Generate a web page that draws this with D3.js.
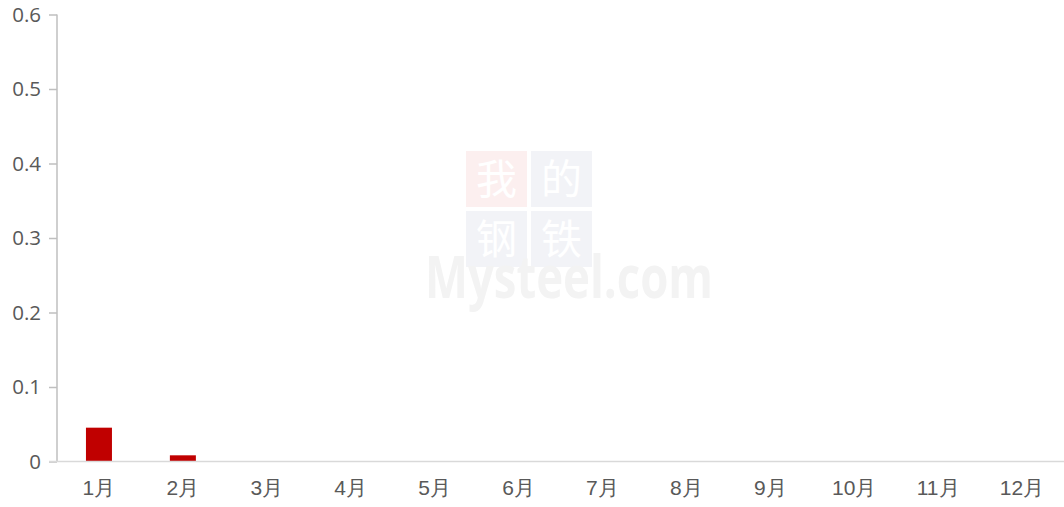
<!DOCTYPE html>
<html>
<head>
<meta charset="utf-8">
<script src="https://cdn.jsdelivr.net/npm/d3@7"></script>
<style>
  body { margin: 0; background: #fff; }
  svg { display: block; font-family: "Noto Sans CJK SC", "Noto Sans", sans-serif; }
</style>
</head>
<body>
<svg id="chart" width="1064" height="507"></svg>
<script>
var months = ['1月', '2月', '3月', '4月', '5月', '6月', '7月', '8月', '9月', '10月', '11月', '12月'];
var values = [0.0454, 0.0083, 0, 0, 0, 0, 0, 0, 0, 0, 0, 0];
var yTicks = [0, 0.1, 0.2, 0.3, 0.4, 0.5, 0.6];

var svg = d3.select('#chart');

/* watermark */
var wm = svg.append('g').attr('class', 'watermark');
var cells = [
  { t: '我', x: 466, y: 151, bg: '#fcefef' },
  { t: '的', x: 531, y: 151, bg: '#f2f3f7' },
  { t: '钢', x: 466, y: 211, bg: '#f2f3f7' },
  { t: '铁', x: 531, y: 211, bg: '#f2f3f7' }
];
cells.forEach(function (c) {
  wm.append('rect').attr('x', c.x).attr('y', c.y).attr('width', 61).attr('height', 56).attr('fill', c.bg);
  wm.append('text').attr('x', c.x + 30.5).attr('y', c.y + 43).attr('text-anchor', 'middle')
    .attr('font-size', 41).attr('fill', '#ffffff')
    .attr('font-family', '"Noto Sans CJK SC"').text(c.t);
});
wm.append('text').attr('x', 0).attr('y', 0).attr('font-size', 46).attr('font-weight', 'bold')
  .attr('transform', 'translate(425,298) scale(1,1.3)')
  .attr('textLength', 288).attr('lengthAdjust', 'spacingAndGlyphs')
  .attr('fill', '#f3f3f3').attr('font-family', '"Open Sans", sans-serif').text('Mysteel.com');

/* scales */
var xScale = d3.scaleBand().domain(months).range([57, 1064]);
var yScale = d3.scaleLinear().domain([0, 0.6]).range([461.5, 14.5]);

/* bars */
var barWidth = 26;
svg.append('g').selectAll('rect')
  .data(values)
  .join('rect')
  .attr('x', function (d, i) { return xScale(months[i]) + xScale.bandwidth() / 2 - barWidth / 2; })
  .attr('y', function (d) { return yScale(d); })
  .attr('width', barWidth)
  .attr('height', function (d) { return yScale(0) - yScale(d); })
  .attr('fill', '#c00000');

/* y axis */
var yAxis = d3.axisLeft(yScale).tickValues(yTicks).tickSize(8).tickPadding(8)
  .tickFormat(function (d) { return d === 0 ? '0' : d3.format('.1f')(d); });
var yG = svg.append('g').attr('transform', 'translate(57,0)').call(yAxis);
yG.select('.domain').attr('stroke', '#bfbfbf').attr('stroke-width', 1.5).attr('d', 'M0,14.5V461.5');
yG.selectAll('.tick line').attr('stroke', '#bfbfbf').attr('stroke-width', 1.5);
yG.selectAll('.tick text').attr('fill', '#595959').attr('font-size', 20.5)
  .attr('font-family', '"Open Sans", sans-serif');

/* x axis */
var xAxis = d3.axisBottom(xScale).tickSize(0).tickPadding(19);
var xG = svg.append('g').attr('transform', 'translate(0,461.5)').call(xAxis);
xG.select('.domain').attr('stroke', '#d9d9d9').attr('stroke-width', 1.5).attr('d', 'M49,0H1064');
xG.selectAll('.tick text').attr('fill', '#595959').attr('font-size', 21);
</script>
</body>
</html>
